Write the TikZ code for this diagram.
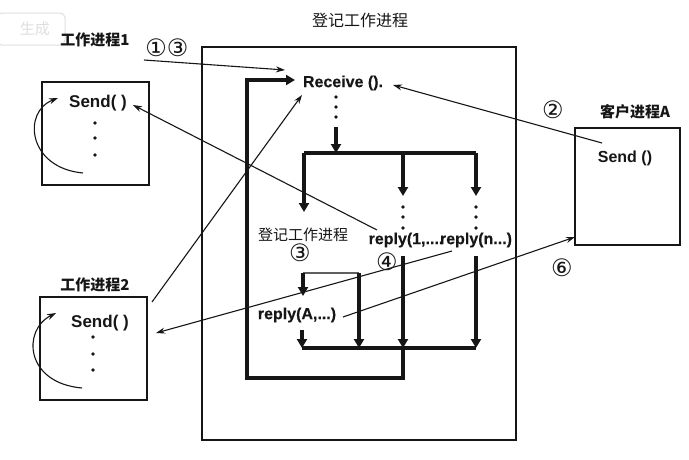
\documentclass[tikz,border=0pt]{standalone}
\usepackage{fontspec}
\setmainfont{Liberation Sans}
\newfontfamily\cjk{Noto Sans CJK SC}
\newfontfamily\circfont{DejaVu Sans}
\newfontfamily\semi{Liberation Sans}[FakeBold=0.2]
\usetikzlibrary{arrows.meta,positioning,calc}
\definecolor{ink}{RGB}{22,22,22}
\colorlet{wmark}{gray!25}

\begin{document}
\begin{tikzpicture}[
  x=1pt, y=-1pt,
  font=\semi\bfseries\fontsize{16}{18}\selectfont,
  color=ink,
  procbox/.style={draw, line width=1.3pt, inner sep=0pt},
  lab/.style={inner sep=0pt, font=\cjk\bfseries\fontsize{15}{17}\selectfont},
  call/.style={inner sep=0pt},
  num/.style={inner sep=0pt, font=\circfont\fontsize{24}{26}\selectfont},
  msg/.style={line width=1.1pt, -{Stealth[length=9pt,width=6pt]}},
  flow/.style={line width=3.4pt, -{Triangle[length=9pt,width=10pt]}},
  bar/.style={line width=3.4pt},
  dot/.style={fill, circle, inner sep=0pt, minimum size=3.8pt},
]
  \useasboundingbox (0,0) rectangle (689,459);
  \fill[white] (0,0) rectangle (689,459);

  % faint mark in the corner
  \node[draw=wmark, line width=1pt, rounded corners=5pt, minimum width=68pt,
        minimum height=32pt, text=wmark, font=\cjk\fontsize{15}{17}\selectfont]
        (mark) at (31,29) {\hspace*{8pt}生成};

  % boxes
  \node[procbox, minimum width=314pt, minimum height=393pt] (reg) at (359,243.5) {};
  \node[procbox, minimum width=107pt, minimum height=103pt] (w1) at (95.5,133.5) {};
  \node[procbox, minimum width=107pt, minimum height=103pt] (w2) at (93.5,348.5) {};
  \node[procbox, minimum width=105pt, minimum height=117pt] (cl) at (627.5,186.5) {};

  % titles
  \node[call, font=\cjk\fontsize{16}{18}\selectfont] (title) at (360,20) {登记工作进程};
  \node[lab] (w1lab) at (95,40) {工作进程1};
  \node[lab] (w2lab) at (95,285) {工作进程2};
  \node[lab] (cllab) at (635,112) {客户进程A};

  % calls
  \node[call, font=\rmfamily\bfseries\fontsize{17}{19}\selectfont] (send1) at (98,103) {Send( )};
  \node[call, font=\rmfamily\bfseries\fontsize{17}{19}\selectfont] (send2) at (100,323) {Send( )};
  \node[call, font=\rmfamily\bfseries\fontsize{16}{18}\selectfont] (sendA) at (625,158) {Send ()};
  \node[call] (recv) at (343,83) {Receive ().};
  \node[call, font=\cjk\fontsize{15}{17}\selectfont] (reg2) at (303,235) {登记工作进程};
  \node[call] (rep1) at (406,240) {reply(1,....};
  \node[call] (repn) at (476,240) {reply(n...)};
  \node[call] (repA) at (297,315) {reply(A,...)};

  % step numbers
  \node[num] (n13) at (167,48) {①③};
  \node[num] (n2) at (553,110) {②};
  \node[num] (n3) at (300,253) {③};
  \node[num] (n4) at (387,262) {④};
  \node[num] (n6) at (562,268) {⑥};

  % dots
  \foreach \x/\y in {95/123, 95/138, 95/155, 93/337, 93/354, 93/370,
                     336/97, 336/107, 336/117,
                     403/207, 403/217, 403/228, 476/207, 476/217, 476/228} {
    \node[dot] at (\x,\y) {};
  }

  % flow inside the register process
  \coordinate (top) at (336,153);
  \coordinate (topL) at (304,153);
  \coordinate (topM) at (403,153);
  \coordinate (topR) at (476,153);
  \coordinate (inL) at (303,273);
  \coordinate (inR) at (359,273);
  \coordinate (botL) at (302,348);
  \coordinate (botM) at (403,348);
  \coordinate (botR) at (476,348);
  \coordinate (loopR) at (403,378);
  \coordinate (loopL) at (247,378);
  \coordinate (loopT) at (247,80);

  \draw[flow] (336,127) -- (top);
  \draw[bar] (topL) -- (topR);
  \draw[flow] (topL) -- (304,212);
  \draw[flow] (topM) -- (403,196);
  \draw[flow] (topR) -- (476,196);
  \draw[bar, line width=2.2pt, gray!70!ink] (inL) -- (inR);
  \draw[flow] (inL) -- (303,296);
  \draw[flow] (inR) -- (botL -| inR);
  \draw[flow] (302,330) -- (botL);
  \draw[flow] (403,256) -- (botM);
  \draw[flow] (476,256) -- (botR);
  \draw[bar] (botL) -- (botR);
  \draw[flow] (botM) -- (loopR) -- (loopL) -- (loopT) -- (295,80);

  % messages
  \coordinate (m1) at (144,60);
  \draw[msg] (m1) -- (285,70);
  \draw[msg] (602,143) -- (393,85);
  \draw[msg] (152,302) -- (302,95);
  \draw[msg] (377,230) -- (133,105);
  \draw[msg] (452,251) -- (156,333);
  \draw[msg] (343,317) -- (575,237);

  % loops inside the worker processes
  \draw[msg] (83,173) .. controls (28,168) and (22,112) .. (58,98);
  \draw[msg] (82,388) .. controls (25,383) and (22,330) .. (56,313);
\end{tikzpicture}
\end{document}
